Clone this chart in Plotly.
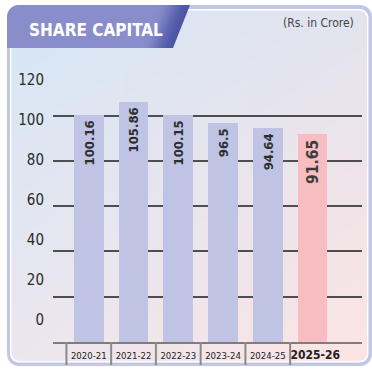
import base64
import struct
import zlib

import numpy as np
import plotly.graph_objects as go

# ---- data -------------------------------------------------------------
categories = ["2020-21", "2021-22", "2022-23", "2023-24", "2024-25", "2025-26"]
values = [100.16, 105.86, 100.15, 96.5, 94.64, 91.65]
y_tick_values = [0, 20, 40, 60, 80, 100, 120]
grid_values = [20, 40, 60, 80, 100]

title_text = "SHARE CAPITAL"
unit_text = "(Rs. in Crore)"

# ---- canvas geometry (pixels) -----------------------------------------
W, H = 372, 369
M_L, M_R, M_T, M_B = 53, 10, 60, 27
PW, PH = W - M_L - M_R, H - M_T - M_B
BASE_Y = H - M_B            # pixel row of the value axis zero
LABEL_ZERO_Y = 320          # pixel row of the "0" scale label

BAR_BLUE = "#BFC4E4"
BAR_PINK = "#F7BDC1"
bar_colors = [BAR_BLUE] * (len(categories) - 1) + [BAR_PINK]

FONT = "DejaVu Sans Condensed"


# ---- background panel rendered as an RGBA PNG -------------------------
def rrect_cov(xx, yy, x0, y0, x1, y1, r):
    cx, cy = (x0 + x1) / 2, (y0 + y1) / 2
    hx, hy = (x1 - x0) / 2 - r, (y1 - y0) / 2 - r
    qx = np.abs(xx - cx) - hx
    qy = np.abs(yy - cy) - hy
    d = np.hypot(np.maximum(qx, 0), np.maximum(qy, 0)) + np.minimum(np.maximum(qx, qy), 0) - r
    return np.clip(0.5 - d, 0, 1)


def hexrgb(h):
    h = h.lstrip("#")
    return np.array([int(h[i:i + 2], 16) for i in (0, 2, 4)], dtype=float)


yy, xx = np.mgrid[0:H, 0:W].astype(float)
xx += 0.5
yy += 0.5

img = np.ones((H, W, 3)) * 255.0


def paint(cov, color):
    global img
    c = cov[..., None]
    img = img * (1 - c) + color * c


paint(rrect_cov(xx, yy, 7, 5, 372, 366, 12), hexrgb("#C3C7E7"))
paint(rrect_cov(xx, yy, 10, 9, 368.5, 362.5, 9), hexrgb("#FFFFFF"))

u = (xx / W)[..., None]
v = (yy / H)[..., None]
TL, TR = hexrgb("#D3E7F6"), hexrgb("#E3E4EF")
BL, BR = hexrgb("#ECE7EF"), hexrgb("#FDE4E3")
grad = (TL * (1 - u) * (1 - v) + TR * u * (1 - v) + BL * (1 - u) * v + BR * u * v)
cov_panel = rrect_cov(xx, yy, 11.5, 10.5, 367, 361, 8)[..., None]
img = img * (1 - cov_panel) + grad * cov_panel

# title tab: rounded top-left corner, slanted right edge
p0 = np.array([190.0, 5.0])
p1 = np.array([173.0, 48.0])
dvec = p1 - p0
nrm = np.array([dvec[1], -dvec[0]]) / np.hypot(*dvec)
dist = (xx - p0[0]) * nrm[0] + (yy - p0[1]) * nrm[1]
cov_tab = np.minimum.reduce([
    rrect_cov(xx, yy, 7, 5, 320, 140, 12),
    np.clip(0.5 + (48 - yy), 0, 1),
    np.clip(0.5 - dist, 0, 1),
])
t = np.clip(-dist / 30.0, 0, 1)
s = (t * t * (3 - 2 * t))[..., None]
tab_col = hexrgb("#4D55A5") * (1 - s) + hexrgb("#898ECB") * s
img = img * (1 - cov_tab[..., None]) + tab_col * cov_tab[..., None]

rgba = np.dstack([np.clip(img, 0, 255), np.full((H, W), 255.0)]).astype(np.uint8)


def png_uri(arr):
    h, w, _ = arr.shape
    raw = b"".join(b"\x00" + arr[i].tobytes() for i in range(h))

    def chunk(tag, data):
        return (struct.pack(">I", len(data)) + tag + data
                + struct.pack(">I", zlib.crc32(tag + data) & 0xFFFFFFFF))

    png = (b"\x89PNG\r\n\x1a\n"
           + chunk(b"IHDR", struct.pack(">IIBBBBB", w, h, 8, 6, 0, 0, 0))
           + chunk(b"IDAT", zlib.compress(raw, 9))
           + chunk(b"IEND", b""))
    return "data:image/png;base64," + base64.b64encode(png).decode()


def px_x(x):
    return (x - M_L) / PW


def px_y(y):
    return (BASE_Y - y) / PH


# ---- figure -----------------------------------------------------------
fig = go.Figure()

fig.add_trace(go.Bar(
    x=categories,
    y=values,
    width=0.664,
    marker=dict(color=bar_colors, line=dict(width=0)),
    text=[str(v) + "\u2009" for v in values],
    textposition="inside",
    insidetextanchor="end",
    textangle=-90,
    textfont=dict(
        family=FONT,
        size=[13] * (len(values) - 1) + [15.5],
        color=["#2E2E2E"] * (len(values) - 1) + ["#3C3C3C"],
        weight="bold",
    ),
    hoverinfo="skip",
))

# carrier for the left-hand value scale
fig.add_trace(go.Scatter(
    x=[categories[0]], y=[0], yaxis="y2", mode="markers",
    marker=dict(opacity=0), hoverinfo="skip", showlegend=False,
))

# the current year is emphasised in the category labels
tick_text = categories[:-1] + [
    f"&nbsp;&nbsp;<span style='font-size:12px'><b>{categories[-1]}</b></span>"
]

# vertical separators between the year labels
shapes = []
for i in range(len(categories)):
    shapes.append(dict(
        type="line", xref="x", yref="paper",
        x0=i - 0.5, x1=i - 0.5, y0=0, y1=-23 / PH,
        line=dict(color="#8A8A8A", width=2), layer="above",
    ))

fig.update_layout(
    width=W, height=H, autosize=False,
    margin=dict(l=M_L, r=M_R, t=M_T, b=M_B, pad=0),
    paper_bgcolor="white",
    plot_bgcolor="rgba(0,0,0,0)",
    showlegend=False,
    bargap=0,
    xaxis=dict(
        type="category",
        range=[-0.8, 6.106],
        tickvals=categories,
        ticktext=tick_text,
        tickfont=dict(family=FONT, size=9.5, color="#222222"),
        tickangle=0,
        ticks="",
        ticklabelstandoff=4,
        automargin=False,
        showline=True, linecolor="#7D7D7D", linewidth=2,
        showgrid=False, zeroline=False, fixedrange=True,
    ),
    yaxis=dict(
        range=[0, PH / 2.265],
        tickvals=grid_values,
        showticklabels=False,
        automargin=False,
        showgrid=True, gridcolor="#4E4E4E", gridwidth=2,
        zeroline=False, showline=False, ticks="", fixedrange=True,
    ),
    yaxis2=dict(
        overlaying="y", side="left",
        range=[-(BASE_Y - LABEL_ZERO_Y) / 2.0, (LABEL_ZERO_Y - M_T) / 2.0],
        tickvals=y_tick_values,
        tickfont=dict(family=FONT, size=15, color="#2A2A2A"),
        ticks="", ticklabelstandoff=8,
        automargin=False,
        showgrid=False, zeroline=False, showline=False, fixedrange=True,
    ),
    images=[dict(
        source=png_uri(rgba), xref="paper", yref="paper",
        x=px_x(0), y=px_y(0), sizex=W / PW, sizey=H / PH,
        xanchor="left", yanchor="top", sizing="stretch", layer="below",
    )],
    shapes=shapes,
    annotations=[
        dict(text=f"<b>{title_text}</b>", xref="paper", yref="paper",
             x=px_x(27), y=px_y(30), xanchor="left", yanchor="middle",
             showarrow=False,
             font=dict(family=FONT, size=17, color="white")),
        dict(text=unit_text, xref="paper", yref="paper",
             x=px_x(356), y=px_y(23), xanchor="right", yanchor="middle",
             showarrow=False,
             font=dict(family=FONT, size=12, color="#444444")),
    ],
)

fig.write_html("out.html")
